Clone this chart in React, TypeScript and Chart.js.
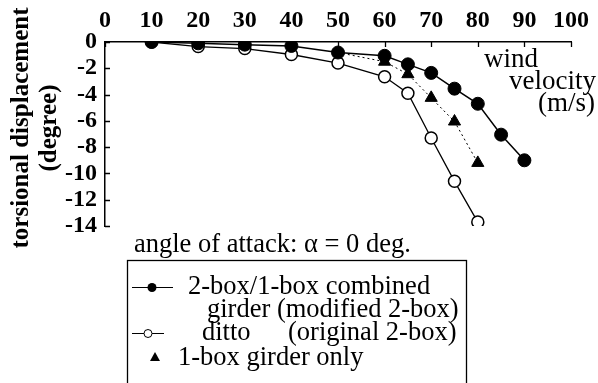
import React, { useEffect, useRef } from "react";
import { Chart, registerables } from "chart.js";

Chart.register(...registerables);

const xTicks = [0, 10, 20, 30, 40, 50, 60, 70, 80, 90, 100];
const yTicks = [0, -2, -4, -6, -8, -10, -12, -14];

const velModified = [10, 20, 30, 40, 50, 60, 65, 70, 75, 80, 85, 90];
const dispModified = [0, -0.1, -0.2, -0.3, -0.8, -1.05, -1.7, -2.35, -3.55, -4.7, -7.05, -9.0];

const velOriginal = [10, 20, 30, 40, 50, 60, 65, 70, 75, 80];
const dispOriginal = [0, -0.35, -0.5, -0.95, -1.6, -2.65, -3.9, -7.3, -10.6, -13.7];

const velOneBox = [50, 60, 65, 70, 75, 80];
const dispOneBox = [-0.8, -1.5, -2.45, -4.25, -6.05, -9.2];

const yTitle = ["torsional displacement", "(degree)"];
const xTitle = ["wind", "velocity", "(m/s)"];
const noteText = "angle of attack: \u03b1 = 0 deg.";
const legendModified = ["2-box/1-box combined", "girder (modified 2-box)"];
const legendOriginal = ["ditto", "(original 2-box)"];
const legendOneBox = "1-box girder only";

const SERIF = '"Liberation Serif", "Times New Roman", Times, serif';

function pts(xs: number[], ys: number[]) {
  return xs.map((x, i) => ({ x, y: ys[i] }));
}

const overlay = {
  id: "overlay",
  afterDraw(chart: any) {
    const ctx: CanvasRenderingContext2D = chart.ctx;
    const xs = chart.scales.x;
    const ys = chart.scales.y;
    const { left, top } = chart.chartArea;
    ctx.save();
    ctx.strokeStyle = "#000";
    ctx.fillStyle = "#000";
    ctx.lineWidth = 1.3;
    // inward tick marks
    ctx.beginPath();
    for (const v of xTicks) {
      const px = Math.round(xs.getPixelForValue(v)) + 0.5;
      ctx.moveTo(px, top);
      ctx.lineTo(px, top + 5);
    }
    for (const v of yTicks) {
      const py = Math.round(ys.getPixelForValue(v)) + 0.5;
      ctx.moveTo(left, py);
      ctx.lineTo(left + 5, py);
    }
    ctx.stroke();

    // y axis title
    ctx.save();
    ctx.translate(22, 128);
    ctx.rotate(-Math.PI / 2);
    ctx.font = `bold 25px ${SERIF}`;
    ctx.textAlign = "center";
    ctx.textBaseline = "middle";
    ctx.fillText(yTitle[0], 0, 0);
    ctx.fillText(yTitle[1], 0, 28);
    ctx.restore();

    // x axis title
    ctx.font = `27px ${SERIF}`;
    ctx.textAlign = "right";
    ctx.textBaseline = "middle";
    ctx.fillText(xTitle[0], 538, 60);
    ctx.fillText(xTitle[1], 596, 82);
    ctx.fillText(xTitle[2], 595, 104);

    // note
    ctx.font = `26.5px ${SERIF}`;
    ctx.textAlign = "left";
    ctx.fillText(noteText, 134, 245);

    // legend box
    ctx.lineWidth = 1.3;
    ctx.strokeRect(127.5, 260.5, 339, 160);

    ctx.font = `26.5px ${SERIF}`;
    ctx.textBaseline = "middle";
    ctx.lineWidth = 1;
    // row 1
    ctx.beginPath();
    ctx.moveTo(132, 287.5);
    ctx.lineTo(173, 287.5);
    ctx.stroke();
    ctx.beginPath();
    ctx.arc(152, 287.5, 4.5, 0, Math.PI * 2);
    ctx.fill();
    ctx.fillText(legendModified[0], 188, 287);
    ctx.fillText(legendModified[1], 207, 310);
    // row 3
    ctx.beginPath();
    ctx.moveTo(132, 333.5);
    ctx.lineTo(164, 333.5);
    ctx.stroke();
    ctx.beginPath();
    ctx.arc(148, 333.5, 4, 0, Math.PI * 2);
    ctx.fillStyle = "#fff";
    ctx.fill();
    ctx.stroke();
    ctx.fillStyle = "#000";
    ctx.fillText(legendOriginal[0], 202, 333);
    ctx.fillText(legendOriginal[1], 288, 333);
    // row 4
    ctx.beginPath();
    ctx.moveTo(155, 352);
    ctx.lineTo(160, 361);
    ctx.lineTo(150, 361);
    ctx.closePath();
    ctx.fill();
    ctx.fillText(legendOneBox, 178, 358);

    ctx.restore();
  },
};

export default function App() {
  const ref = useRef<HTMLCanvasElement | null>(null);
  useEffect(() => {
    document.body.style.margin = "0";
    const canvas = ref.current!;
    const chart = new Chart(canvas, {
      type: "line",
      data: {
        datasets: [
          {
            label: "modified",
            data: pts(velModified, dispModified),
            borderColor: "#000",
            backgroundColor: "#000",
            borderWidth: 1.5,
            pointRadius: 6.5,
            pointBorderWidth: 1,
            pointBorderColor: "#000",
            pointBackgroundColor: "#000",
            pointStyle: "circle",
          },
          {
            label: "original",
            data: pts(velOriginal, dispOriginal),
            borderColor: "#000",
            backgroundColor: "#fff",
            borderWidth: 1.3,
            pointRadius: 6,
            pointBorderWidth: 1.5,
            pointBorderColor: "#000",
            pointBackgroundColor: "#fff",
            pointStyle: "circle",
          },
          {
            label: "one-box",
            data: pts(velOneBox, dispOneBox),
            borderColor: "#000",
            backgroundColor: "#000",
            borderWidth: 1,
            borderDash: [2, 3],
            pointRadius: [0, 7, 7, 7, 7, 7],
            pointBorderWidth: 1,
            pointBorderColor: "#000",
            pointBackgroundColor: "#000",
            pointStyle: "triangle",
          },
        ],
      },
      options: {
        responsive: false,
        animation: false,
        layout: { padding: { left: 0, top: 0, right: 23, bottom: 157 } },
        plugins: { legend: { display: false }, tooltip: { enabled: false } },
        scales: {
          x: {
            type: "linear",
            position: "top",
            min: 0,
            max: 100,
            afterFit: (s: any) => {
              s.height = 42;
            },
            afterBuildTicks: (s: any) => {
              s.ticks = xTicks.map((v) => ({ value: v }));
            },
            grid: { display: true, drawOnChartArea: false, drawTicks: false },
            border: { display: true, color: "#000", width: 1.5 },
            ticks: {
              autoSkip: false,
              maxRotation: 0,
              padding: 9,
              color: "#000",
              font: { family: SERIF, size: 24, weight: "bold", lineHeight: 1 },
            },
          },
          y: {
            type: "linear",
            min: -14,
            max: 0,
            afterFit: (s: any) => {
              s.width = 105;
            },
            afterBuildTicks: (s: any) => {
              s.ticks = yTicks.map((v) => ({ value: v }));
            },
            grid: { display: true, drawOnChartArea: false, drawTicks: false },
            border: { display: true, color: "#000", width: 1.5 },
            ticks: {
              autoSkip: false,
              padding: 8,
              color: "#000",
              font: { family: SERIF, size: 24, weight: "bold", lineHeight: 1 },
            },
          },
        },
      },
      plugins: [overlay],
    });
    return () => chart.destroy();
  }, []);
  return (
    <div style={{ position: "fixed", left: 0, top: 0, width: 598, height: 383, background: "#fff" }}>
      <canvas ref={ref} width={598} height={383} style={{ width: 598, height: 383 }} />
    </div>
  );
}
